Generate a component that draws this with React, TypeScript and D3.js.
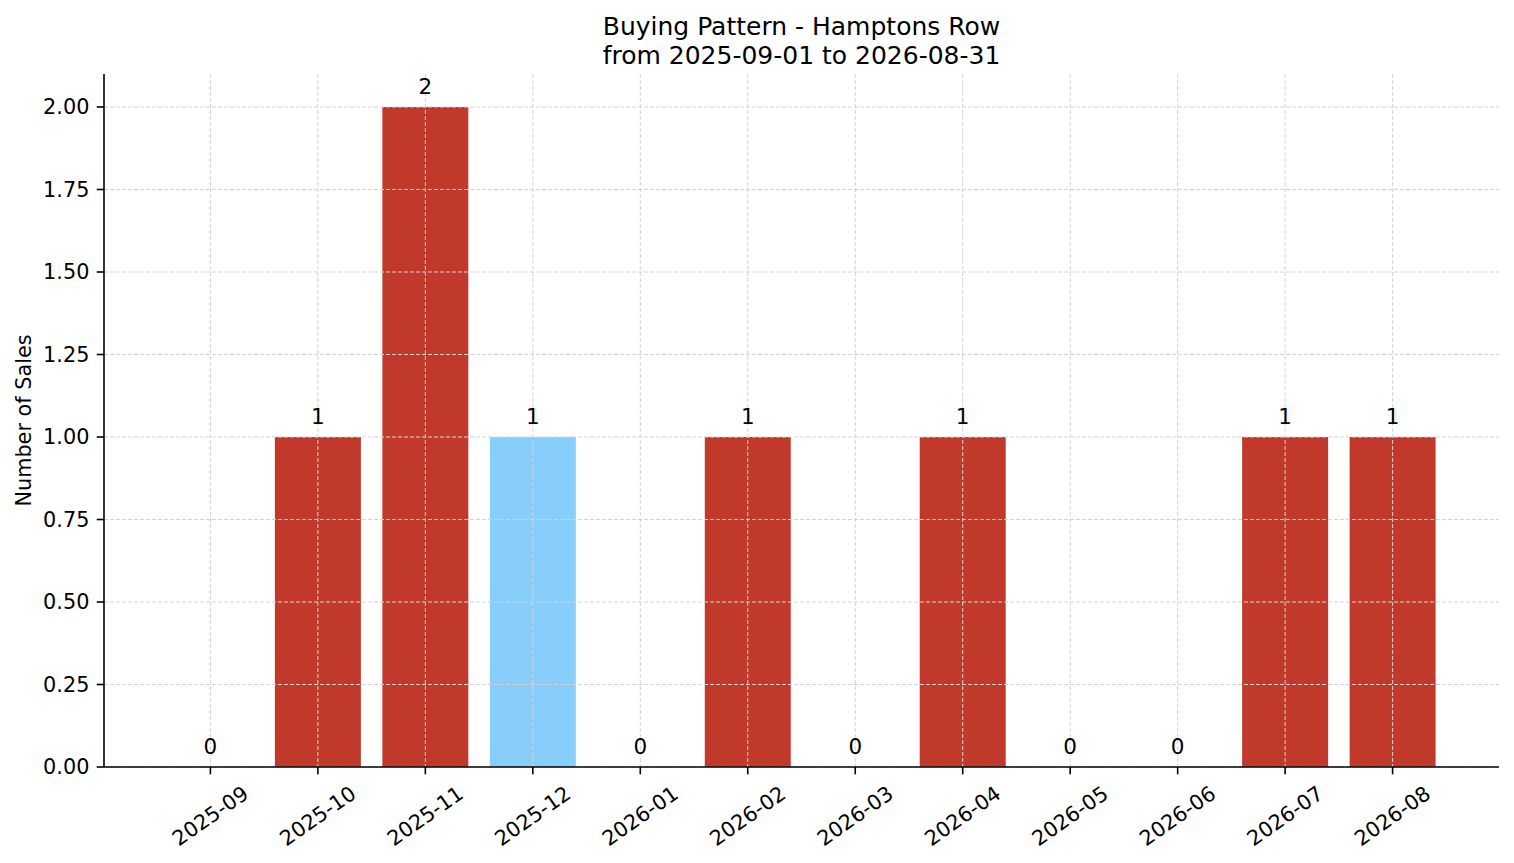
import * as d3 from 'd3';

const months = [
  '2025-09', '2025-10', '2025-11', '2025-12', '2026-01', '2026-02',
  '2026-03', '2026-04', '2026-05', '2026-06', '2026-07', '2026-08',
];
const sales = [0, 1, 2, 1, 0, 1, 0, 1, 0, 0, 1, 1];
const highlightMonth = '2025-12';
const yTicks = [0, 0.25, 0.5, 0.75, 1.0, 1.25, 1.5, 1.75, 2.0];
const titleLines = ['Buying Pattern - Hamptons Row', 'from 2025-09-01 to 2026-08-31'];
const yLabel = 'Number of Sales';

const W = 1514;
const H = 863;
const plot = { left: 104, right: 1499, top: 74, bottom: 767 };
const font = 'DejaVu Sans, sans-serif';
const barColor = '#c0392b';
const highlightColor = '#87cefa';
const gridColor = '#d3d3d3';
const tickFont = 20.8;
const valueFont = 21.5;
const titleFont = 25;

export default function App() {
  // bar centres sit at 0..n-1, with matplotlib's 5% margin either side
  const n = months.length;
  const pad = (n - 1 + 0.8) * 0.05;
  const x = d3.scaleLinear()
    .domain([-0.4 - pad, n - 1 + 0.4 + pad])
    .range([plot.left, plot.right]);
  const y = d3.scaleLinear()
    .domain([0, 2.1])
    .range([plot.bottom, plot.top]);
  const barW = x(0.8) - x(0);
  const cx = (plot.left + plot.right) / 2;
  const cy = (plot.top + plot.bottom) / 2;

  return (
    <svg
      width={W}
      height={H}
      style={{ position: 'absolute', left: 0, top: 0, background: '#fff' }}
      fontFamily={font}
    >
      {/* title */}
      {titleLines.map((t, i) => (
        <text key={t} x={cx} y={35 + i * 28.5} textAnchor="middle" fontSize={titleFont} fill="#000">
          {t}
        </text>
      ))}

      {/* bars */}
      {sales.map((v, i) => (
        <rect
          key={months[i]}
          x={x(i) - barW / 2}
          y={y(v)}
          width={barW}
          height={y(0) - y(v)}
          fill={months[i] === highlightMonth ? highlightColor : barColor}
        />
      ))}

      {/* grid, drawn over the bars as matplotlib does */}
      <g stroke={gridColor} strokeWidth={1} strokeDasharray="4,2">
        {yTicks.map(t => (
          <line key={'gy' + t} x1={plot.left} x2={plot.right} y1={y(t)} y2={y(t)} />
        ))}
        {months.map((m, i) => (
          <line key={'gx' + m} x1={x(i)} x2={x(i)} y1={plot.top} y2={plot.bottom} />
        ))}
      </g>

      {/* value labels */}
      {sales.map((v, i) => (
        <text key={'v' + months[i]} x={x(i)} y={y(v) - 13} textAnchor="middle" fontSize={valueFont} fill="#000">
          {v}
        </text>
      ))}

      {/* y axis */}
      <line x1={plot.left} x2={plot.left} y1={plot.top} y2={plot.bottom} stroke="#000" strokeWidth={1.6} />
      {yTicks.map(t => (
        <g key={'yt' + t}>
          <line x1={plot.left - 7.3} x2={plot.left} y1={y(t)} y2={y(t)} stroke="#000" strokeWidth={1.6} />
          <text x={plot.left - 14.6} y={y(t)} textAnchor="end" dominantBaseline="central" fontSize={tickFont} fill="#000">
            {t.toFixed(2)}
          </text>
        </g>
      ))}
      <text
        transform={`translate(31, ${cy}) rotate(-90)`}
        textAnchor="middle"
        fontSize={tickFont}
        fill="#000"
      >
        {yLabel}
      </text>

      {/* x axis */}
      <line x1={plot.left} x2={plot.right} y1={plot.bottom} y2={plot.bottom} stroke="#000" strokeWidth={1.6} />
      {months.map((m, i) => (
        <g key={'xt' + m}>
          <line x1={x(i)} x2={x(i)} y1={plot.bottom} y2={plot.bottom + 7.3} stroke="#000" strokeWidth={1.6} />
          <text
            transform={`translate(${x(i)}, ${plot.bottom + 49}) rotate(-35)`}
            textAnchor="middle"
            dominantBaseline="central"
            fontSize={tickFont}
            fill="#000"
          >
            {m}
          </text>
        </g>
      ))}
    </svg>
  );
}
